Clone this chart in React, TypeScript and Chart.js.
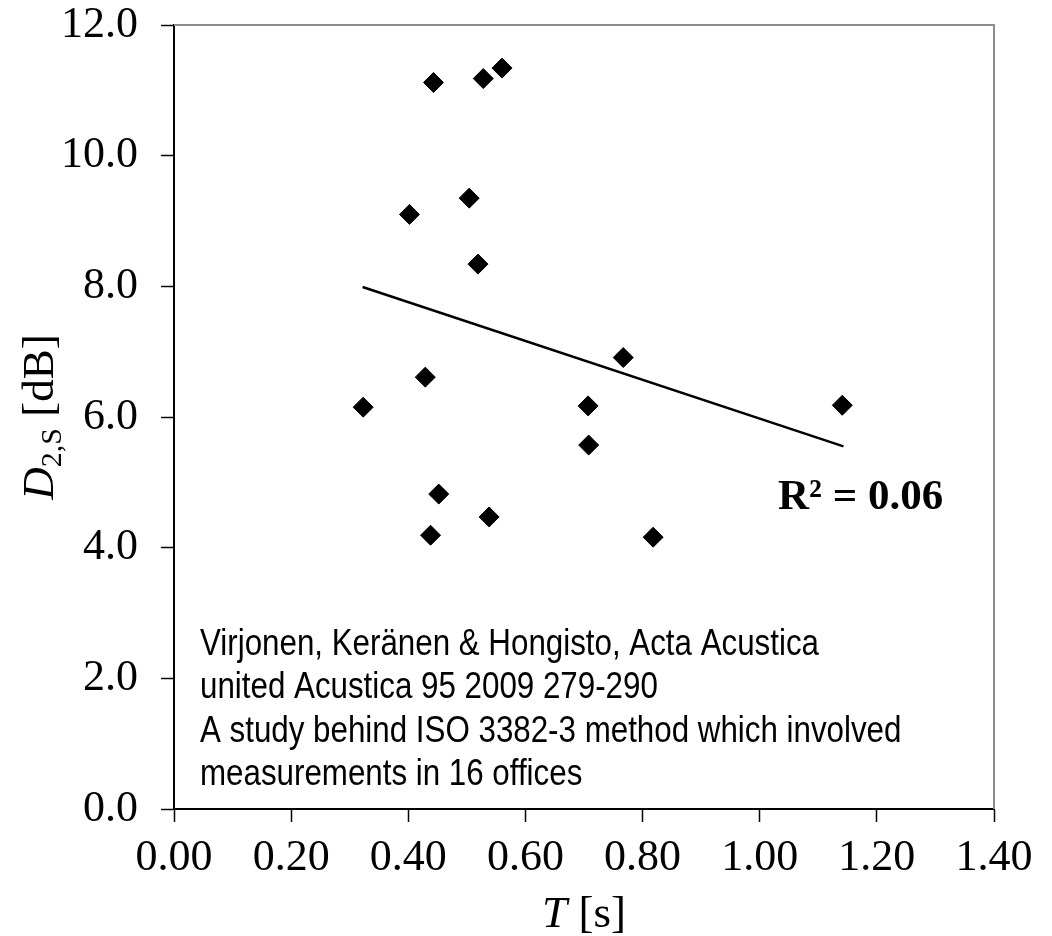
import React, { useEffect, useRef } from "react";
import { Chart, registerables } from "chart.js";

Chart.register(...registerables);

// ---- data ----
const reverberationTime = [0.323, 0.402, 0.443, 0.528, 0.56, 0.504, 0.519, 0.429, 0.767, 0.707, 0.708, 0.452, 0.538, 0.438, 0.818, 1.141];
const spatialDecay = [6.15, 9.1, 11.12, 11.18, 11.34, 9.35, 8.34, 6.61, 6.91, 6.17, 5.57, 4.82, 4.47, 4.19, 4.16, 6.18];
const trendTime = [0.322, 1.143];
const trendDecay = [7.99, 5.55];
const xTickValues = [0, 0.2, 0.4, 0.6, 0.8, 1.0, 1.2, 1.4];
const yTickValues = [0, 2, 4, 6, 8, 10, 12];
const noteLines = [
  "Virjonen, Keränen & Hongisto, Acta Acustica",
  "united Acustica 95 2009 279-290",
  "A study behind ISO 3382-3 method which involved",
  "measurements in 16 offices",
];
const rSquaredLabel = "R² = 0.06";

const SERIF = '"Liberation Serif", "Times New Roman", serif';
const SANS = '"Liberation Sans", Arial, sans-serif';

const decorations = {
  id: "decorations",
  afterDraw(chart: any) {
    const { ctx, chartArea } = chart;
    const { left, right, top, bottom } = chartArea;
    ctx.save();
    // grey plot-area frame (top and right)
    ctx.strokeStyle = "#8c8c8c";
    ctx.lineWidth = 2;
    ctx.beginPath();
    ctx.moveTo(left, top);
    ctx.lineTo(right, top);
    ctx.lineTo(right, bottom);
    ctx.stroke();

    ctx.fillStyle = "#000";
    ctx.textAlign = "left";
    ctx.textBaseline = "alphabetic";

    // R² label
    ctx.font = `bold 43px ${SERIF}`;
    ctx.fillText(rSquaredLabel, 778, 509);

    // note text (narrow sans)
    ctx.font = `36px ${SANS}`;
    const w1 = ctx.measureText(noteLines[0]).width;
    const sx = 619 / w1;
    noteLines.forEach((line, i) => {
      ctx.save();
      ctx.translate(200, 655 + i * 43.4);
      ctx.scale(sx, 1);
      ctx.fillText(line, 0, 0);
      ctx.restore();
    });

    // x-axis title: T [s]
    const cx = (left + right) / 2;
    const tf = 45;
    ctx.font = `italic ${tf}px ${SERIF}`;
    const wT = ctx.measureText("T").width;
    ctx.font = `${tf}px ${SERIF}`;
    const wS = ctx.measureText(" [s]").width;
    let x = cx - (wT + wS) / 2;
    const xb = 927;
    ctx.font = `italic ${tf}px ${SERIF}`;
    ctx.fillText("T", x, xb);
    x += wT;
    ctx.font = `${tf}px ${SERIF}`;
    ctx.fillText(" [s]", x, xb);

    // y-axis title: D2,S [dB]
    const cy = (top + bottom) / 2;
    const sf = 30;
    ctx.translate(53, cy);
    ctx.rotate(-Math.PI / 2);
    ctx.font = `italic ${tf}px ${SERIF}`;
    const wD = ctx.measureText("D").width;
    ctx.font = `${sf}px ${SERIF}`;
    const wSub = ctx.measureText("2,S").width;
    ctx.font = `${tf}px ${SERIF}`;
    const wRest = ctx.measureText(" [dB]").width;
    let y0 = -(wD + wSub + wRest) / 2;
    ctx.font = `italic ${tf}px ${SERIF}`;
    ctx.fillText("D", y0, 0);
    y0 += wD;
    ctx.font = `${sf}px ${SERIF}`;
    ctx.fillText("2,S", y0, 8);
    y0 += wSub;
    ctx.font = `${tf}px ${SERIF}`;
    ctx.fillText(" [dB]", y0, 0);
    ctx.restore();
  },
};

export default function App() {
  const canvasRef = useRef<HTMLCanvasElement | null>(null);

  useEffect(() => {
    const canvas = canvasRef.current;
    if (!canvas) return;
    const points = reverberationTime.map((t, i) => ({ x: t, y: spatialDecay[i] }));
    const trend = trendTime.map((t, i) => ({ x: t, y: trendDecay[i] }));

    const chart = new Chart(canvas, {
      type: "scatter",
      data: {
        datasets: [
          {
            label: "D2,S",
            data: points,
            pointStyle: "rectRot",
            pointRadius: 10,
            pointHoverRadius: 10,
            backgroundColor: "#000",
            borderColor: "#000",
            borderWidth: 1,
            showLine: false,
          },
          {
            label: "trend",
            data: trend,
            showLine: true,
            pointRadius: 0,
            borderColor: "#000",
            borderWidth: 2.5,
            fill: false,
          },
        ],
      },
      options: {
        responsive: false,
        animation: false,
        devicePixelRatio: 1,
        layout: { padding: { left: 0, top: 25, right: 58, bottom: 0 } },
        plugins: { legend: { display: false }, tooltip: { enabled: false } },
        scales: {
          x: {
            type: "linear",
            min: 0,
            max: 1.4,
            afterBuildTicks: (s: any) => {
              s.ticks = xTickValues.map((v) => ({ value: v }));
            },
            afterFit: (s: any) => {
              s.height = 127;
            },
            ticks: {
              autoSkip: false,
              maxRotation: 0,
              padding: 10,
              color: "#000",
              font: { family: SERIF, size: 44 },
              callback: (v: any) => Number(v).toFixed(2),
            },
            grid: {
              drawOnChartArea: false,
              drawTicks: true,
              tickLength: 13,
              tickColor: "#000",
              tickWidth: 1.5,
            },
            border: { display: true, color: "#000", width: 2 },
          },
          y: {
            type: "linear",
            min: 0,
            max: 12,
            afterBuildTicks: (s: any) => {
              s.ticks = yTickValues.map((v) => ({ value: v }));
            },
            afterFit: (s: any) => {
              s.width = 174;
              s.paddingTop = 0;
              s.paddingBottom = 0;
            },
            ticks: {
              autoSkip: false,
              padding: 23,
              color: "#000",
              font: { family: SERIF, size: 44 },
              callback: (v: any) => Number(v).toFixed(1),
            },
            grid: {
              drawOnChartArea: false,
              drawTicks: true,
              tickLength: 13,
              tickColor: "#000",
              tickWidth: 1.5,
            },
            border: { display: true, color: "#000", width: 2 },
          },
        },
      },
      plugins: [decorations],
    });
    return () => chart.destroy();
  }, []);

  return (
    <div style={{ position: "fixed", left: 0, top: 0, width: 1052, height: 936, background: "#fff" }}>
      <canvas ref={canvasRef} width={1052} height={936} style={{ display: "block" }} />
    </div>
  );
}
